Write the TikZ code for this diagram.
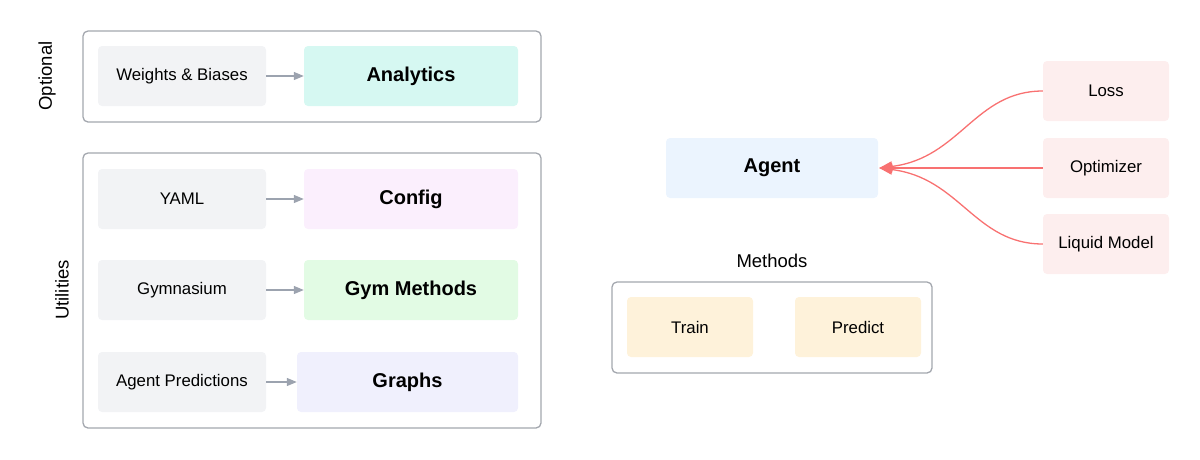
\documentclass[tikz,border=0pt]{standalone}
\usepackage{fontspec}
\setmainfont{Liberation Sans}
\usetikzlibrary{arrows.meta}
\definecolor{frame}{HTML}{A3A7AE}
\definecolor{garrow}{HTML}{9CA3AF}
\definecolor{grayfill}{HTML}{F2F3F5}
\definecolor{tealfill}{HTML}{D6F8F2}
\definecolor{purplefill}{HTML}{FBEFFD}
\definecolor{greenfill}{HTML}{E2FBE4}
\definecolor{indigofill}{HTML}{F0F0FD}
\definecolor{bluefill}{HTML}{EBF4FE}
\definecolor{redfill}{HTML}{FDEEEE}
\definecolor{amberfill}{HTML}{FEF2DA}
\definecolor{redline}{HTML}{F87171}
\tikzset{
  group/.style={draw=frame, line width=1.3pt, rounded corners=5pt, inner sep=0pt},
  card/.style={rounded corners=4pt, minimum height=60pt, inner sep=0pt, text=black},
  srcbox/.style={card, fill=grayfill, minimum width=168pt, font=\fontsize{16.8}{18}\selectfont},
  bigbox/.style={card, minimum width=214pt, font=\fontsize{20}{22}\selectfont\bfseries},
  smallbox/.style={card, minimum width=126pt, font=\fontsize{16.8}{18}\selectfont},
  grouplabel/.style={font=\fontsize{18.5}{20}\selectfont, text=black},
  garr/.style={draw=garrow, line width=1.2pt, -{Triangle[length=10pt,width=8pt]}},
  rarr/.style={draw=redline, line width=1.3pt, -{Triangle[length=13pt,width=10pt]}},
}
\begin{document}
\begin{tikzpicture}[x=1pt,y=-1pt]
\useasboundingbox (0,0) rectangle (1200,459);
% groups
\node[group, minimum width=458pt, minimum height=91pt] (optgrp) at (312,76.5) {};
\node[group, minimum width=458pt, minimum height=275pt] (utilgrp) at (312,290.5) {};
\node[group, minimum width=320pt, minimum height=91pt] (methgrp) at (772,327.5) {};
\node[grouplabel, rotate=90] (optlbl) at (47,76) {Optional};
\node[grouplabel, rotate=90] (utillbl) at (62,290) {Utilities};
\node[grouplabel] (methlbl) at (772,261) {Methods};
% left cards
\node[srcbox] (wb) at (182,76) {Weights \& Biases};
\node[bigbox, fill=tealfill] (an) at (411,76) {Analytics};
\node[srcbox] (yaml) at (182,199) {YAML};
\node[bigbox, fill=purplefill] (cfg) at (411,199) {Config};
\node[srcbox] (gym) at (182,290) {Gymnasium};
\node[bigbox, fill=greenfill] (gm) at (411,290) {Gym Methods};
\node[srcbox] (ap) at (182,382) {Agent Predictions};
\node[bigbox, fill=indigofill, minimum width=221pt] (gr) at (407.5,382) {Graphs};
% right side
\node[bigbox, fill=bluefill, minimum width=212pt] (agent) at (772,168) {Agent};
\node[smallbox, fill=redfill] (loss) at (1106,91) {Loss};
\node[smallbox, fill=redfill] (opt) at (1106,168) {Optimizer};
\node[smallbox, fill=redfill] (lm) at (1106,244) {Liquid Model};
\node[smallbox, fill=amberfill] (train) at (690,327) {Train};
\node[smallbox, fill=amberfill] (pred) at (858,327) {Predict};

\draw[garr] (wb.east) -- (an.west);
\draw[garr] (yaml.east) -- (cfg.west);
\draw[garr] (gym.east) -- (gm.west);
\draw[garr] (ap.east) -- (gr.west);

\draw[rarr] (loss.west) .. controls +(-68,0) and +(81,-10) .. ([xshift=1pt]agent.east);
\draw[rarr] (opt.west) -- ([xshift=1pt]agent.east);
\draw[rarr] (lm.west) .. controls +(-68,0) and +(81,10) .. ([xshift=1pt]agent.east);
\end{tikzpicture}
\end{document}
